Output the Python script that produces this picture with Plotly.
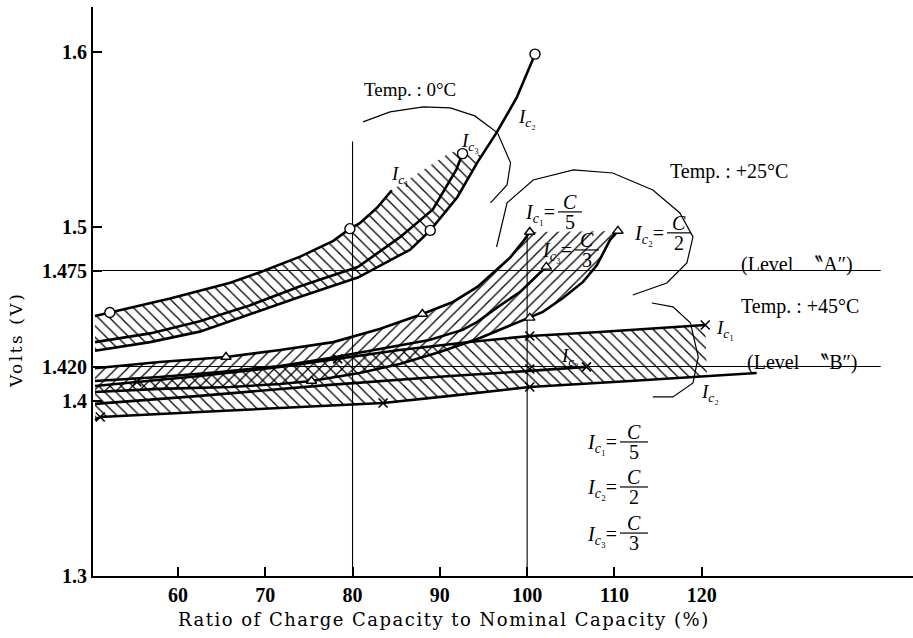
import plotly.graph_objects as go

# ---------------- data (x: % of nominal capacity, y: volts) ----------------
# Temp 0 C
T0_IC1_X = [50.5, 52.2, 59.1, 66.0, 69.4, 74.0, 77.8, 79.7, 80.8, 82.8, 84.5]
T0_IC1_Y = [1.449, 1.451, 1.459, 1.468, 1.474, 1.483, 1.492, 1.499, 1.502, 1.511, 1.521]
T0_IC3_X = [50.5, 56.8, 62.5, 68.2, 74.0, 80.6, 85.4, 89.2, 91.9, 92.6]
T0_IC3_Y = [1.434, 1.439, 1.446, 1.455, 1.466, 1.477, 1.494, 1.510, 1.533, 1.542]
T0_IC2_X = [50.5, 56.8, 62.5, 68.2, 74.0, 80.6, 86.6, 88.9, 92.0, 94.3, 96.5, 98.8, 100.9]
T0_IC2_Y = [1.429, 1.434, 1.440, 1.450, 1.460, 1.471, 1.487, 1.498, 1.517, 1.537, 1.554, 1.574, 1.599]
T0_HATCH_EDGE_X = [91.3, 94.8]
T0_HATCH_EDGE_Y = [1.543, 1.541]
T0_PTS_X = [52.2, 79.7, 88.9, 92.6, 100.9]
T0_PTS_Y = [1.451, 1.499, 1.498, 1.542, 1.599]

# Temp +25 C
T25_IC1_X = [50.5, 57.9, 65.5, 71.7, 77.8, 83.1, 88.0, 91.5, 94.3, 96.1, 98.0, 99.5, 100.3]
T25_IC1_Y = [1.419, 1.4226, 1.4255, 1.4295, 1.434, 1.4415, 1.4501, 1.457, 1.4656, 1.4736, 1.4822, 1.4914, 1.4971]
T25_IC3_X = [50.5, 57.9, 64.8, 71.7, 77.4, 83.1, 88.8, 92.6, 94.3, 96.5, 99.2, 101.5, 102.2]
T25_IC3_Y = [1.4117, 1.414, 1.4169, 1.4203, 1.4249, 1.4301, 1.4352, 1.441, 1.4456, 1.4536, 1.4628, 1.4739, 1.4771]
T25_IC2_X = [50.5, 57.9, 65.96, 71.7, 75.3, 80.8, 85.4, 90.0, 94.6, 98.0, 100.3, 101.8, 104.1, 106.4, 108.0, 109.5, 110.4]
T25_IC2_Y = [1.4054, 1.4072, 1.4083, 1.4100, 1.4117, 1.4163, 1.4215, 1.4284, 1.4364, 1.4433, 1.4479, 1.4513, 1.4593, 1.4685, 1.4782, 1.4926, 1.4977]
T25_PTS_X = [65.5, 88.0, 100.3, 102.2, 110.4, 100.3, 75.3]
T25_PTS_Y = [1.4255, 1.4501, 1.4971, 1.4771, 1.4977, 1.4479, 1.4117]

# Temp +45 C
T45_IC1_X = [50.5, 55.3, 62.5, 71.7, 78.3, 85.4, 93.4, 100.3, 108.3, 120.4]
T45_IC1_Y = [1.4089, 1.4112, 1.4146, 1.4198, 1.4244, 1.4295, 1.4341, 1.4375, 1.4398, 1.4438]
T45_IC3_X = [50.5, 62.5, 77.4, 91.2, 100.3, 106.8]
T45_IC3_Y = [1.3986, 1.4032, 1.4095, 1.4146, 1.4175, 1.4198]
T45_IC2_X = [50.5, 51.1, 62.5, 74.0, 83.5, 91.2, 100.3, 111.8, 120.6, 126.3]
T45_IC2_Y = [1.3894, 1.3911, 1.394, 1.3968, 1.3991, 1.4032, 1.4083, 1.4117, 1.4145, 1.4163]
T45_PTS_X = [51.1, 55.3, 78.3, 83.5, 100.3, 100.3, 100.3, 106.8, 120.4]
T45_PTS_Y = [1.3911, 1.4112, 1.4244, 1.3991, 1.4375, 1.4186, 1.4083, 1.4198, 1.4438]

# group brackets (arcs)
ARC0_X = [81.2, 84.3, 88.1, 91.2, 94.0, 96.6, 98.1, 97.7, 95.8]
ARC0_Y = [1.5602, 1.5659, 1.5688, 1.5682, 1.5636, 1.5539, 1.5367, 1.5241, 1.5138]
ARC25_X = [96.5, 97.7, 100.7, 105.3, 109.8, 114.4, 117.5, 119.0, 118.3, 116.0, 112.1]
ARC25_Y = [1.4885, 1.5138, 1.5269, 1.5327, 1.5309, 1.5212, 1.508, 1.4943, 1.4794, 1.4679, 1.461]
ARC45_X = [114.3, 116.7, 118.7, 119.6, 119.0, 116.7, 114.4]
ARC45_Y = [1.4564, 1.4542, 1.445, 1.4255, 1.4106, 1.4026, 1.4026]

# reference levels
LEVEL_A = 1.475
LEVEL_B = 1.420
LEVEL_END_X = 140.5
VLINE_80_TOP = 1.549
VLINE_100_TOP = 1.497

X_TICKS = [60, 70, 80, 90, 100, 110, 120]
Y_TICKS = [1.3, 1.4, 1.42, 1.475, 1.5, 1.6]
Y_TICKTEXT = ["1.3", "1.4", "1.420", "1.475", "1.5", "1.6"]

X_RANGE = [50.27, 144.2]
Y_RANGE = [1.3, 1.626]

FONT = "Liberation Serif"
fig = go.Figure()


def band(xs, ys, shape):
    fig.add_trace(go.Scatter(
        x=xs, y=ys, mode="lines", line=dict(width=0), fill="toself",
        fillcolor="rgba(0,0,0,0)",
        fillpattern=dict(shape=shape, size=8, solidity=0.16, fgcolor="black",
                         fgopacity=1, bgcolor="rgba(0,0,0,0)"),
        hoverinfo="skip"))


def curve(xs, ys, width=2.6):
    fig.add_trace(go.Scatter(x=xs, y=ys, mode="lines",
                             line=dict(color="black", width=width),
                             hoverinfo="skip"))


def thin(xs, ys, width=1.1):
    fig.add_trace(go.Scatter(x=xs, y=ys, mode="lines",
                             line=dict(color="black", width=width),
                             hoverinfo="skip"))


# hatched bands
band(T0_IC1_X + T0_HATCH_EDGE_X + [x for x in T0_IC2_X if x < T0_HATCH_EDGE_X[-1]][::-1],
     T0_IC1_Y + T0_HATCH_EDGE_Y + [y for x, y in zip(T0_IC2_X, T0_IC2_Y) if x < T0_HATCH_EDGE_X[-1]][::-1],
     "\\")
band(T25_IC1_X + T25_IC2_X[::-1], T25_IC1_Y + T25_IC2_Y[::-1], "/")
n45 = T45_IC2_X.index(120.6) + 1
band(T45_IC1_X + T45_IC2_X[:n45][::-1], T45_IC1_Y + T45_IC2_Y[:n45][::-1], "\\")

# reference lines
thin([X_RANGE[0], LEVEL_END_X], [LEVEL_A, LEVEL_A])
thin([X_RANGE[0], LEVEL_END_X], [LEVEL_B, LEVEL_B])
thin([80, 80], [Y_RANGE[0], VLINE_80_TOP])
thin([100, 100], [Y_RANGE[0], VLINE_100_TOP])

# arcs
thin(ARC0_X, ARC0_Y, 1.2)
thin(ARC25_X, ARC25_Y, 1.2)
thin(ARC45_X, ARC45_Y, 1.2)

# curves
for xs, ys in [(T0_IC1_X, T0_IC1_Y), (T0_IC3_X, T0_IC3_Y), (T0_IC2_X, T0_IC2_Y),
               (T25_IC1_X, T25_IC1_Y), (T25_IC3_X, T25_IC3_Y), (T25_IC2_X, T25_IC2_Y),
               (T45_IC1_X, T45_IC1_Y), (T45_IC3_X, T45_IC3_Y), (T45_IC2_X, T45_IC2_Y)]:
    curve(xs, ys)

# markers
fig.add_trace(go.Scatter(x=T0_PTS_X, y=T0_PTS_Y, mode="markers",
                         marker=dict(symbol="circle", size=10, color="white",
                                     line=dict(color="black", width=1.4)), hoverinfo="skip"))
fig.add_trace(go.Scatter(x=T25_PTS_X, y=T25_PTS_Y, mode="markers",
                         marker=dict(symbol="triangle-up", size=9, color="white",
                                     line=dict(color="black", width=1.4)), hoverinfo="skip"))
fig.add_trace(go.Scatter(x=T45_PTS_X, y=T45_PTS_Y, mode="markers",
                         marker=dict(symbol="x-thin", size=9, color="black",
                                     line=dict(color="black", width=1.6)), hoverinfo="skip"))

SUBS = {1: "\u2081", 2: "\u2082", 3: "\u2083"}


def ic(n):
    return f"<i>I</i><sub><i>c</i>{SUBS[n]}</sub>"


ann = []


def label(x, y, text, size=18, xanchor="center", yanchor="middle"):
    ann.append(dict(x=x, y=y, text=text, showarrow=False, xanchor=xanchor,
                    yanchor=yanchor, font=dict(family=FONT, size=size, color="black")))


def frac(x, y, n, den, barw=24, size=20):
    ann.append(dict(x=x, y=y, text=f"{ic(n)}=", showarrow=False, xanchor="right",
                    yanchor="middle", xshift=-(barw / 2 + 1), yshift=-2,
                    font=dict(family=FONT, size=size, color="black")))
    ann.append(dict(x=x, y=y, text="<i>C</i>", showarrow=False, xanchor="center",
                    yanchor="bottom", yshift=-3,
                    font=dict(family=FONT, size=size, color="black")))
    ann.append(dict(x=x, y=y, text=den, showarrow=False, xanchor="center",
                    yanchor="top", yshift=3,
                    font=dict(family=FONT, size=size, color="black")))
    fig.add_shape(type="line", xref="x", yref="y", xsizemode="pixel", ysizemode="pixel",
                  xanchor=x, yanchor=y, x0=-barw / 2, x1=barw / 2, y0=0, y1=0,
                  line=dict(color="black", width=1.2))


label(86.6, 1.5785, "Temp. : 0°C", 19)
label(123.1, 1.5315, "Temp. : +25°C", 20)
label(131.2, 1.4542, "Temp. : +45°C", 20)
label(130.9, 1.4782, "(Level  \u301dA\u2033)", 20)
label(131.5, 1.4226, "(Level  \u301dB\u2033)", 20)

label(85.4, 1.5298, ic(1), 19)
label(93.5, 1.5487, ic(3), 19)
label(100.0, 1.5625, ic(2), 19)

label(121.4, 1.4418, ic(1), 19, xanchor="left")
label(104.9, 1.4255, ic(3), 19)
label(120.9, 1.4049, ic(2), 19)

frac(104.9, 1.5086, 1, "5")
frac(106.85, 1.4868, 3, "3")
frac(117.39, 1.4966, 2, "2")
frac(112.24, 1.3768, 1, "5", barw=28)
frac(112.24, 1.3510, 2, "2", barw=28)
frac(112.24, 1.3246, 3, "3", barw=28)

# axis titles
ann.append(dict(xref="paper", yref="paper", x=0, y=0.415, xshift=-77,
                text="Volts (V)", textangle=-90, showarrow=False,
                xanchor="center", yanchor="middle",
                font=dict(family="DejaVu Serif", size=17, color="black")))
ann.append(dict(xref="paper", yref="paper", x=0.428, y=-0.077,
                text="Ratio of Charge Capacity to Nominal Capacity (%)", showarrow=False,
                xanchor="center", yanchor="middle",
                font=dict(family="DejaVu Serif", size=18, color="black")))

fig.update_layout(
    width=913, height=638,
    margin=dict(l=93, r=0, t=7, b=62),
    plot_bgcolor="white", paper_bgcolor="white",
    showlegend=False,
    font=dict(family=FONT, color="black"),
    annotations=ann,
    xaxis=dict(range=X_RANGE, tickvals=X_TICKS, ticks="inside", ticklen=9, tickwidth=1.5,
               tickcolor="black", showline=True, linewidth=2.2, linecolor="black",
               showgrid=False, zeroline=False,
               tickfont=dict(family=FONT, size=20, color="black", weight="bold")),
    yaxis=dict(range=Y_RANGE, tickvals=Y_TICKS, ticktext=Y_TICKTEXT, ticks="inside",
               ticklen=9, tickwidth=1.5, tickcolor="black", showline=True, linewidth=2.2,
               linecolor="black", showgrid=False, zeroline=False,
               tickfont=dict(family=FONT, size=20, color="black", weight="bold")),
)

# widen the letter spacing of the two axis titles, as in the printed original
POST = """
document.querySelectorAll('.annotation-text').forEach(function(t){
  var s = t.textContent;
  if (s.indexOf('Ratio of') === 0) { t.style.letterSpacing = '1.5px'; }
  if (s.indexOf('Volts') === 0) { t.style.letterSpacing = '2.5px'; }
});
"""

fig.write_html("out.html", post_script=POST)
